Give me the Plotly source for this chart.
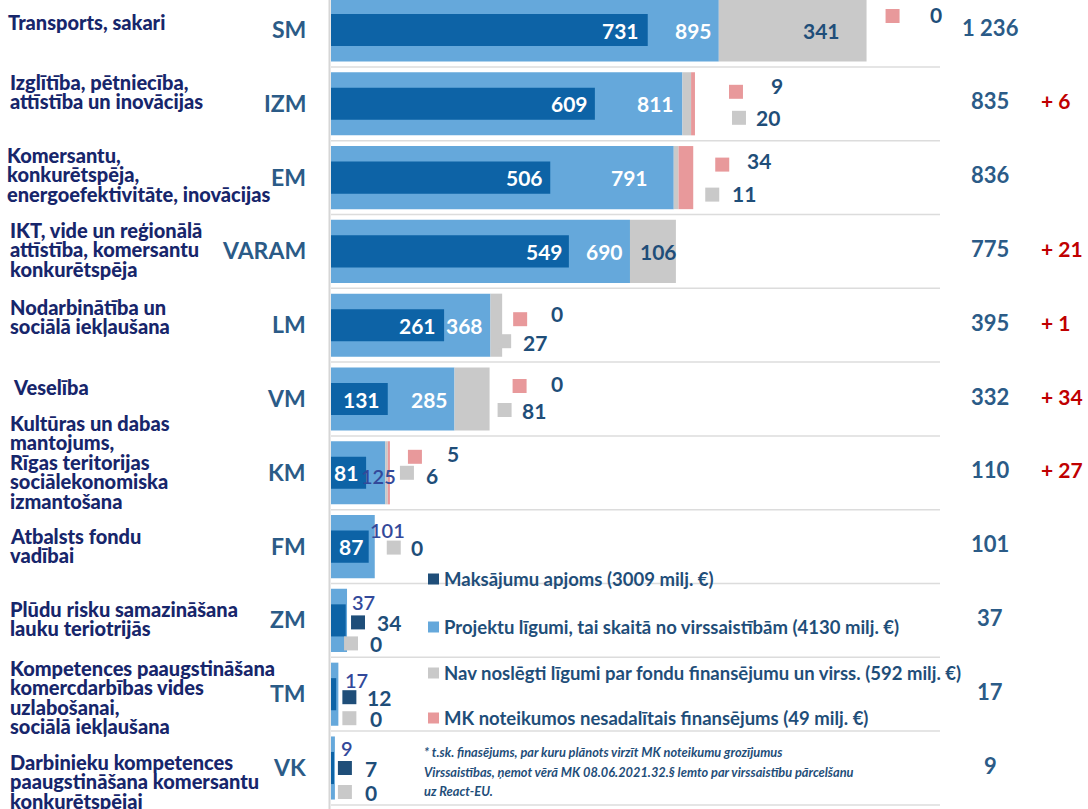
import plotly.graph_objects as go

# ---------------- data ----------------
abbr = ["SM", "IZM", "EM", "VARAM", "LM", "VM", "KM", "FM", "ZM", "TM", "VK"]
categories = [
    "Transports, sakari",
    "Izglītība, pētniecība,\nattīstība un inovācijas",
    "Komersantu,\nkonkurētspēja,\nenergoefektivitāte, inovācijas",
    "IKT, vide un reģionālā\nattīstība, komersantu\nkonkurētspēja",
    "Nodarbinātība un\nsociālā iekļaušana",
    "Veselība",
    "Kultūras un dabas\nmantojums,\nRīgas teritorijas\nsociālekonomiska\nizmantošana",
    "Atbalsts fondu\nvadībai",
    "Plūdu risku samazināšana\nlauku teriotrijās",
    "Kompetences paaugstināšana\nkomercdarbības vides\nuzlabošanai,\nsociālā iekļaušana",
    "Darbinieku kompetences\npaaugstināšana komersantu\nkonkurētspējai",
]
maksajumi = [731, 609, 506, 549, 261, 131, 81, 87, 34, 12, 7]
ligumi = [895, 811, 791, 690, 368, 285, 125, 101, 37, 17, 9]
nav = [341, 20, 11, 106, 27, 81, 6, 0, 0, 0, 0]
mk = [0, 9, 34, 0, 0, 0, 5, 0, 0, 0, 0]
kopa = ["1 236", "835", "836", "775", "395", "332", "110", "101", "37", "17", "9"]
izmainas = ["", "+ 6", "", "+ 21", "+ 1", "+ 34", "+ 27", "", "", "", ""]

legend_labels = [
    "Maksājumu apjoms (3009 milj. €)",
    "Projektu līgumi, tai skaitā no virssaistībām (4130 milj. €)",
    "Nav noslēgti līgumi par fondu finansējumu un virss. (592 milj. €)",
    "MK noteikumos nesadalītais finansējums (49 milj. €)",
]
footnote = [
    "* t.sk. finasējums, par kuru plānots virzīt MK noteikumu grozījumus",
    "Virssaistības, ņemot vērā MK 08.06.2021.32.§ lemto par virssaistību pārcelšanu",
    "uz React-EU.",
]

# ---------------- styling ----------------
W, H = 1088, 809
X0 = 331          # pixel of value 0
SCALE = 0.4333    # px per unit
ROW0, ROWH = 30, 73.8

C_DARK = "#0d63a6"
C_LIGHT = "#65a8db"
C_GREY = "#c9c9c9"
C_PINK = "#e8999b"
C_NAVY = "#1f4e79"
C_LABEL = "#17266b"
C_ABBR = "#2b5b87"
C_RED = "#c00000"
C_SMALL = "#33499a"
FONT = "Lato"

def ux(px):  # pixels -> data units (x)
    return px / SCALE

def uy(px):  # pixels -> row units (y)
    return px / ROWH

def pxx(p):
    return p / W

def pxy(p):
    return 1 - p / H

rows = list(range(len(abbr)))
ends = [l + n + m for l, n, m in zip(ligumi, nav, mk)]

fig = go.Figure()
fig.add_bar(y=rows, x=ligumi, orientation="h", width=0.855,
            marker=dict(color=C_LIGHT, line=dict(width=0)), hoverinfo="skip")
fig.add_bar(y=rows, x=maksajumi, orientation="h", width=0.435,
            marker=dict(color=C_DARK, line=dict(width=0)), hoverinfo="skip")
fig.add_bar(y=rows, x=nav, base=ligumi, orientation="h", width=0.855,
            marker=dict(color=C_GREY, line=dict(width=0)), hoverinfo="skip")
fig.add_bar(y=rows, x=mk, base=[l + n for l, n in zip(ligumi, nav)], orientation="h",
            width=0.855, marker=dict(color=C_PINK, line=dict(width=0)), hoverinfo="skip")

ann = []

def num(text, x, y, color, xanchor="left", xshift=0, yshift=0, size=20, weight="bold",
        xref="x", yref="y", italic=False):
    ann.append(dict(text=str(text), x=x, y=y, xref=xref, yref=yref, xanchor=xanchor,
                    yanchor="middle", xshift=xshift, yshift=yshift, showarrow=False,
                    borderpad=0, borderwidth=0,
                    font=dict(family=FONT, size=size, color=color, weight=weight,
                              style="italic" if italic else "normal")))

# white labels inside bars
dark_shift = [-9, -7, -7, -6, -8, -8, -8, -6]
for i, s in enumerate(dark_shift):
    num(maksajumi[i], maksajumi[i], i, "white", "right", s, size=21)
light_shift = [-7, -8, -26, -7, -7, -6]
for i, s in enumerate(light_shift):
    num(ligumi[i], ligumi[i], i, "white", "right", s, size=21)

# grey labels inside grey bars
for i, s in [(0, -27), (3, 1)]:
    num(nav[i], ends[i], i, C_NAVY, "right", s, size=21)

# outside light labels
for i, (s, dy) in {6: (-24, 3), 7: (-5, -17), 8: (5, -18), 9: (7, -14), 10: (6, -20)}.items():
    num(ligumi[i], ligumi[i], i, C_SMALL, "left", s, -dy, size=20, weight=600)

mx, my, mc = [], [], []
# pink markers + labels: (sq_dx, sq_dy, txt_dx, txt_dy)
pink_pos = {0: (26, -14, 63, -16), 1: (41, -12, 76, -18), 2: (29, -13, 54, -17),
            4: (18, -6, 49, -12), 5: (30, -13, 61, -16), 6: (25, -16, 57, -19)}
for i, (sx, sy, tx, ty) in pink_pos.items():
    mx.append(ends[i] + ux(sx)); my.append(i + uy(sy)); mc.append(C_PINK)
    num(mk[i], ends[i], i, C_NAVY, "left", tx, -ty, size=21)
grey_pos = {1: (44, 14, 61, 14), 2: (19, 17, 39, 16), 4: (2, 16, 21, 17),
            5: (15, 11, 32, 11), 6: (17, 0, 36, 3), 7: (19, 1, 36, 1)}
for i, (sx, sy, tx, ty) in grey_pos.items():
    mx.append(ends[i] + ux(sx)); my.append(i + uy(sy)); mc.append(C_GREY)
    num(nav[i], ends[i], i, C_NAVY, "left", tx, -ty, size=21)

# small rows: dark + grey markers
small_pos = {8: ((11, 2, 30), (4, 23, 23)), 9: ((11, 3, 29), (11, 24, 32)),
             10: ((10, 0, 30), (10, 24, 30))}
for i, ((dsx, dsy, dtx), (gsx, gsy, gtx)) in small_pos.items():
    mx.append(ligumi[i] + ux(dsx)); my.append(i + uy(dsy)); mc.append(C_NAVY)
    num(maksajumi[i], ligumi[i], i, C_NAVY, "left", dtx, -dsy, size=21)
    mx.append(ligumi[i] + ux(gsx)); my.append(i + uy(gsy)); mc.append(C_GREY)
    num(nav[i], ligumi[i], i, C_NAVY, "left", gtx, -gsy, size=21)

fig.add_scatter(x=mx, y=my, mode="markers", cliponaxis=False, hoverinfo="skip",
                marker=dict(symbol="square", size=14, color=mc, line=dict(width=0)))

# totals and changes
for i in rows:
    num(kopa[i], pxx(990), i, C_ABBR, "center", 0, 3, size=22, xref="paper")
    if izmainas[i]:
        num(izmainas[i], pxx(1041), i, C_RED, "left", 0, 3, size=21, xref="paper")
    num(abbr[i], pxx(306), i, C_ABBR, "right", 0, 1, size=23, xref="paper")

# category labels (line by line)
cat_y = [22, 82, 155, 230, 307, 387, 423, 536, 609, 668, 762]
cat_x = [8, 10, 7, 10, 10, 13, 10, 10, 10, 10, 10]
LINE = 19.4
for i, c in enumerate(categories):
    for k, line in enumerate(c.split("\n")):
        num(line, pxx(cat_x[i]), pxy(cat_y[i] + k * LINE), C_LABEL, "left",
            size=20, weight=900, xref="paper", yref="paper")

# legend
shapes = []
leg_y = [579, 627, 673, 718]
leg_c = [C_NAVY, C_LIGHT, C_GREY, C_PINK]
for lbl, yy, cc in zip(legend_labels, leg_y, leg_c):
    shapes.append(dict(type="rect", xref="paper", yref="paper", x0=pxx(428), x1=pxx(439),
                       y0=pxy(yy + 5.5), y1=pxy(yy - 5.5), fillcolor=cc, line=dict(width=0)))
    num(lbl, pxx(444), pxy(yy), C_NAVY, "left", size=18.5, xref="paper", yref="paper")
for k, line in enumerate(footnote):
    num(line, pxx(424), pxy(752 + k * 19.5), C_NAVY, "left", size=12.8,
        xref="paper", yref="paper", italic=True)

# separator lines and axis line
for i in rows:
    shapes.append(dict(type="line", xref="x", yref="y", x0=0, x1=ux(940 - X0),
                       y0=i + 0.5, y1=i + 0.5, line=dict(color="#dcdcdc", width=1.5),
                       layer="below"))
shapes.append(dict(type="line", xref="paper", yref="paper", x0=pxx(329.5), x1=pxx(329.5),
                   y0=0, y1=1, line=dict(color="#d6d6d6", width=2)))

fig.update_layout(
    width=W, height=H, margin=dict(l=0, r=0, t=0, b=0),
    paper_bgcolor="white", plot_bgcolor="white",
    barmode="overlay", showlegend=False,
    xaxis=dict(domain=[X0 / W, 1], range=[0, (W - X0) / SCALE], visible=False, fixedrange=True),
    yaxis=dict(domain=[0, 1], range=[(H - ROW0) / ROWH, -ROW0 / ROWH], visible=False,
               fixedrange=True),
    annotations=ann, shapes=shapes,
)
fig.write_html("out.html")
